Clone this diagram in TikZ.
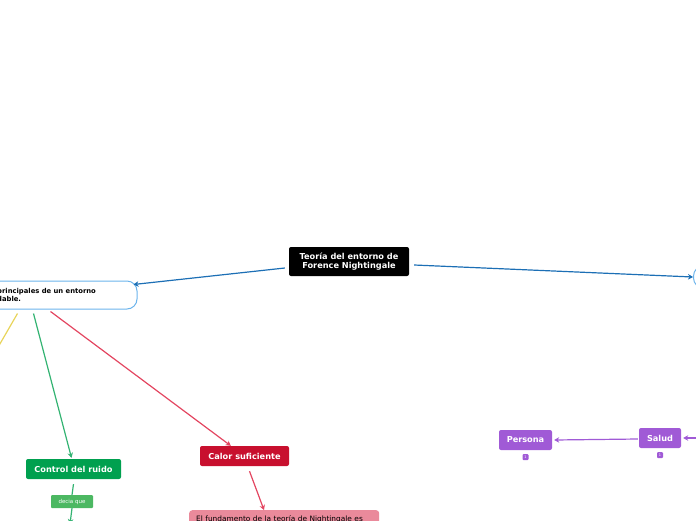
\documentclass[tikz,border=0pt]{standalone}
\usepackage{fontspec}
\setmainfont{DejaVu Sans}
\usetikzlibrary{arrows.meta, positioning, calc}

\definecolor{mainblue}{HTML}{1C6FB5}
\definecolor{boxblue}{HTML}{6CB4EC}
\definecolor{noisegreen}{HTML}{00A04F}
\definecolor{saygreen}{HTML}{4CB862}
\definecolor{heatred}{HTML}{C8102E}
\definecolor{linered}{HTML}{E34560}
\definecolor{notepink}{HTML}{EA8A9B}
\definecolor{healthpurple}{HTML}{A05AD6}
\definecolor{lineyellow}{HTML}{E8D45A}

\begin{document}
\begin{tikzpicture}[x=1pt, y=-1pt,
  topic/.style={rounded corners=2pt, inner sep=0pt, text=white, align=center,
    font=\bfseries\fontsize{8.2}{9.6}\selectfont},
  link/.style={line width=1.2pt, -{Stealth[length=5pt, width=5.5pt]}},
  badge/.style={fill=healthpurple, rounded corners=1pt, inner sep=0pt,
    minimum width=6pt, minimum height=6pt, text=white, font=\fontsize{3.5}{4}\selectfont}]
  \useasboundingbox (0,0) rectangle (696,520);
  \begin{scope}
  \clip (0,0) rectangle (696,520);

  % Central topic
  \node[topic, fill=black, minimum width=120pt, minimum height=29pt] (center) at (349,261.5)
    {Teoría del entorno de\\Forence Nightingale};

  % Side boxes
  \node[draw=boxblue, fill=white, line width=1pt, rounded corners=10pt,
    minimum width=157pt, minimum height=28pt] (bigbox) at (58.5,295) {};
  \node[anchor=west, align=left, inner sep=0pt, font=\bfseries\fontsize{6.8}{8}\selectfont] (bigtext) at (-3,295)
    {principales de un entorno\\dable.};
  \node[draw=boxblue, fill=white, line width=1pt, rounded corners=10pt, anchor=west,
    minimum width=110pt, minimum height=22pt] (rightbox) at (693,277) {};

  \draw[link, mainblue] ($(center.west)+(-4,6.5)$) -- ($(bigbox.north east)+(-4,4)$);
  \draw[link, mainblue] ($(center.east)+(5,3.5)$) -- (rightbox.west);

  % Branches of the left box
  \coordinate (yellowend) at (-3,349);
  \draw[line width=1.2pt, lineyellow] ($(bigbox.south west)+(38,4)$) -- (yellowend);

  \node[topic, fill=noisegreen, minimum width=95pt, minimum height=20pt] (noise) at (73.5,469) {Control del ruido};
  \node[topic, fill=heatred, minimum width=89pt, minimum height=20pt] (heat) at (244.5,456) {Calor suficiente};

  \draw[link, noisegreen!80!white] ($(bigbox.south west)+(54,4)$) -- ($(noise.north)+(-2,-1)$);
  \draw[link, linered] ($(bigbox.south west)+(71,2)$) -- ($(heat.north west)+(31,0)$);

  % Control del ruido
  \node[fill=saygreen, rounded corners=1pt, text=white, inner sep=0pt, minimum width=42pt, minimum height=13pt,
    font=\fontsize{5.5}{6}\selectfont] (say) at (72,501.5) {decia que};
  \coordinate (sayend) at (70,524);
  \draw[line width=1.2pt, noisegreen!80!white] ($(noise.south)+(0,5)$) -- (say.north);
  \draw[link, noisegreen!80!white] (say.south) -- (sayend);

  % Calor suficiente
  \node[fill=notepink, rounded corners=3pt, anchor=north west, text width=176pt, align=left,
    inner xsep=7pt, inner ysep=5.5pt, font=\fontsize{7.4}{9}\selectfont] (note) at (189,510)
    {El fundamento de la teoría de Nightingale es};
  \draw[link, linered] ($(heat.south)+(5,5)$) -- ($(note.north west)+(75,0)$);

  % Salud / Persona
  \node[topic, fill=healthpurple, minimum width=42pt, minimum height=20pt] (health) at (660,438) {Salud};
  \node[topic, fill=healthpurple, minimum width=53pt, minimum height=20pt] (person) at (525.5,440) {Persona};
  \node[badge] (healthbadge) at (660,455) {1};
  \node[badge] (personbadge) at (525.5,457) {1};
  \coordinate (healthin) at (700,438);
  \draw[link, healthpurple] (healthin) -- ($(health.east)+(2,0)$);
  \draw[link, healthpurple] ($(health.west)+(-1,1)$) -- ($(person.east)+(2,0)$);
  \end{scope}
\end{tikzpicture}
\end{document}
